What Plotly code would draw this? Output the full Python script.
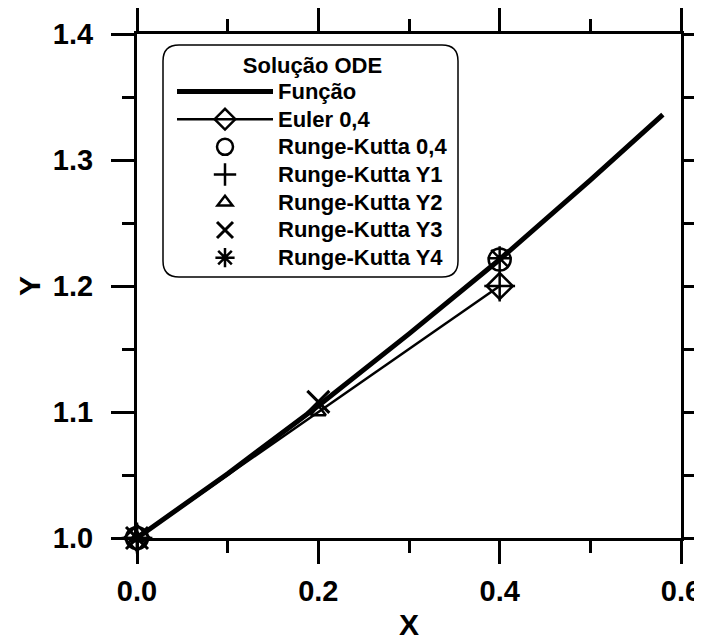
import plotly.graph_objects as go

# ---- data ----
x_func = [0.0, 0.1, 0.2, 0.3, 0.4, 0.5, 0.58]
y_func = [1.000, 1.051, 1.105, 1.162, 1.221, 1.284, 1.336]

x_euler = [0.0, 0.4]
y_euler = [1.0, 1.2]

x_rk = [0.0, 0.4]
y_rk = [1.0, 1.221]

x_y1 = [0.0, 0.4]
y_y1 = [1.0, 1.2]

x_y2 = [0.0, 0.2]
y_y2 = [1.0, 1.1]

x_y3 = [0.0, 0.2]
y_y3 = [1.0, 1.108]

x_y4 = [0.0, 0.4]
y_y4 = [1.0, 1.222]

x_ticks = [0.0, 0.2, 0.4, 0.6]
x_ticklabels = ["0.0", "0.2", "0.4", "0.6"]
y_ticks = [1.0, 1.1, 1.2, 1.3, 1.4]
y_ticklabels = ["1.0", "1.1", "1.2", "1.3", "1.4"]

FONT = "Liberation Sans, Arial, sans-serif"
BLACK = "black"


def big(s):
    return f'<span style="font-size:22px">{s}</span>'


fig = go.Figure()
fig.add_trace(go.Scatter(x=x_func, y=y_func, mode="lines", name=big("Função"),
                         line=dict(color=BLACK, width=5), cliponaxis=False))
fig.add_trace(go.Scatter(x=x_euler, y=y_euler, mode="lines+markers", name=big("Euler 0,4"),
                         line=dict(color=BLACK, width=2.5), cliponaxis=False,
                         marker=dict(symbol="diamond-open", size=20, color=BLACK,
                                     line=dict(width=2.5, color=BLACK))))
fig.add_trace(go.Scatter(x=x_rk, y=y_rk, mode="markers", name=big("Runge-Kutta 0,4"),
                         cliponaxis=False,
                         marker=dict(symbol="circle-open", size=22, color=BLACK,
                                     line=dict(width=2.5, color=BLACK))))
fig.add_trace(go.Scatter(x=x_y1, y=y_y1, mode="markers", name=big("Runge-Kutta Y1"),
                         cliponaxis=False,
                         marker=dict(symbol="cross-thin-open", size=22, color=BLACK,
                                     line=dict(width=2.5, color=BLACK))))
fig.add_trace(go.Scatter(x=x_y2, y=y_y2, mode="markers", name=big("Runge-Kutta Y2"),
                         cliponaxis=False,
                         marker=dict(symbol="triangle-up-open", size=13, color=BLACK,
                                     line=dict(width=2.5, color=BLACK))))
fig.add_trace(go.Scatter(x=x_y3, y=y_y3, mode="markers", name=big("Runge-Kutta Y3"),
                         cliponaxis=False,
                         marker=dict(symbol="x-thin-open", size=22, color=BLACK,
                                     line=dict(width=3, color=BLACK))))
fig.add_trace(go.Scatter(x=x_y4, y=y_y4, mode="markers", name=big("Runge-Kutta Y4"),
                         cliponaxis=False,
                         marker=dict(symbol="asterisk-open", size=20, color=BLACK,
                                     line=dict(width=2.5, color=BLACK))))

# page has an 8px body margin; figure size and margins compensate
OFF = 8
W, H = 702 - OFF, 644 - OFF
PL, PR, PT, PB = 137, 681, 34, 538          # plot area in picture pixels
L, T = PL - OFF, PT - OFF
R = W - (PR - OFF)
B = H - (PB - OFF)
pw, ph = PR - PL, PB - PT


def px2paper(px, py):
    return (px - PL) / pw, (PB - py) / ph


bx0, by0, bx1, by1, rad = 163, 45, 458, 277, 16
x0, y1p = px2paper(bx0, by0)
x1, y0p = px2paper(bx1, by1)
rx, ry = rad / pw, rad / ph
path = (f"M{x0+rx},{y1p} L{x1-rx},{y1p} Q{x1},{y1p} {x1},{y1p-ry} "
        f"L{x1},{y0p+ry} Q{x1},{y0p} {x1-rx},{y0p} "
        f"L{x0+rx},{y0p} Q{x0},{y0p} {x0},{y0p+ry} "
        f"L{x0},{y1p-ry} Q{x0},{y1p} {x0+rx},{y1p} Z")

fig.add_shape(type="path", path=path, xref="paper", yref="paper",
              line=dict(color=BLACK, width=1.5), fillcolor="rgba(0,0,0,0)", layer="below")

axis_common = dict(
    showline=True, linecolor=BLACK, linewidth=3, mirror="allticks",
    ticks="outside", ticklen=23, tickwidth=3, tickcolor=BLACK,
    showgrid=False, zeroline=False, automargin=False,
    tickfont=dict(family=FONT, size=29, color=BLACK, weight="bold"),
    title_font=dict(family=FONT, size=30, color=BLACK, weight="bold"),
)

fig.update_xaxes(range=[0, 0.6], tickvals=x_ticks, ticktext=x_ticklabels,
                 minor=dict(dtick=0.1, ticks="outside", ticklen=12, tickwidth=3, tickcolor=BLACK),
                 title_text="X", title_standoff=9, ticklabelstandoff=2, **axis_common)
fig.update_yaxes(range=[1.0, 1.4], tickvals=y_ticks, ticktext=y_ticklabels,
                 minor=dict(dtick=0.05, ticks="outside", ticklen=12, tickwidth=3, tickcolor=BLACK),
                 title_text="Y", title_standoff=4, ticklabelstandoff=12, **axis_common)

lx, ly = px2paper(172, 44)
fig.update_layout(
    width=W, height=H,
    margin=dict(l=L, r=R, t=T, b=B),
    plot_bgcolor="white", paper_bgcolor="white",
    showlegend=True,
    legend=dict(
        x=lx, y=ly, xanchor="left", yanchor="top",
        bgcolor="rgba(0,0,0,0)", borderwidth=0,
        font=dict(family=FONT, size=19, color=BLACK, weight="bold"),
        title=dict(text="Solução ODE", side="top center",
                   font=dict(family=FONT, size=22, color=BLACK, weight="bold")),
        itemwidth=96, tracegroupgap=0,
    ),
)

fig.write_html("out.html")
